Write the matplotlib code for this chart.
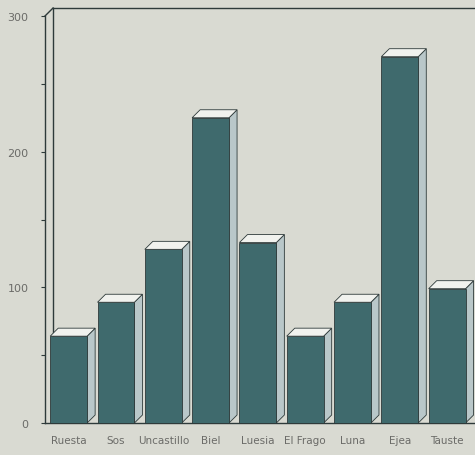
import matplotlib.pyplot as plt
from matplotlib.patches import Polygon

towns = ['Ruesta', 'Sos', 'Uncastillo', 'Biel', 'Luesia', 'El Frago', 'Luna', 'Ejea', 'Tauste']
values = [64, 89, 128, 225, 133, 64, 89, 270, 99]
yticks = [0, 100, 200, 300]

BG = '#d9dad2'
FRONT = '#3f6a6d'
SIDE = '#b9c7c9'
TOP = '#f1f2ee'
EDGE = '#2e3a3a'
TXT = '#6b6b68'

fig = plt.figure(figsize=(4.75, 4.56), dpi=100)
fig.patch.set_facecolor(BG)
ax = fig.add_axes([45 / 475, 32 / 456, 430 / 475, 407 / 456])
ax.set_facecolor(BG)
ax.set_xlim(-0.5, 8.59)
ax.set_ylim(0, 300)

w = 0.78
dx, dy = 0.17, 5.9  # depth offset in data units

x = range(len(towns))
ax.bar(x, values, width=w, color=FRONT, edgecolor=EDGE, linewidth=0.6, zorder=3)
for i, v in zip(x, values):
    l, r = i - w / 2, i + w / 2
    top = Polygon([(l, v), (r, v), (r + dx, v + dy), (l + dx, v + dy)],
                  closed=True, facecolor=TOP, edgecolor=EDGE, linewidth=0.6,
                  zorder=3, clip_on=False)
    side = Polygon([(r, 0), (r + dx, dy), (r + dx, v + dy), (r, v)],
                   closed=True, facecolor=SIDE, edgecolor=EDGE, linewidth=0.6,
                   zorder=2, clip_on=False)
    ax.add_patch(side)
    ax.add_patch(top)

# back wall of the 3d box
x0 = -0.5
ax.plot([x0 + dx, x0 + dx], [dy, 300 + dy], color=EDGE, lw=1.0, clip_on=False, zorder=1)
ax.plot([x0 + dx, 8.59], [300 + dy, 300 + dy], color=EDGE, lw=1.0, clip_on=False, zorder=1)
ax.plot([x0, x0 + dx], [300, 300 + dy], color=EDGE, lw=1.0, clip_on=False, zorder=1)

for s in ['top', 'right']:
    ax.spines[s].set_visible(False)
for s in ['left', 'bottom']:
    ax.spines[s].set_color(EDGE)
    ax.spines[s].set_linewidth(1.0)

ax.set_yticks(yticks)
ax.set_yticks([50, 150, 250], minor=True)
ax.set_yticklabels([str(t) for t in yticks])
ax.tick_params(axis='y', which='both', length=3, width=0.8, color=EDGE,
               labelsize=8, labelcolor=TXT, pad=9)
ax.set_xticks(list(x))
ax.set_xticklabels(towns)
ax.tick_params(axis='x', length=0, labelsize=7.5, labelcolor=TXT, pad=9)

fig.savefig('out.png', dpi=100, facecolor=BG)
